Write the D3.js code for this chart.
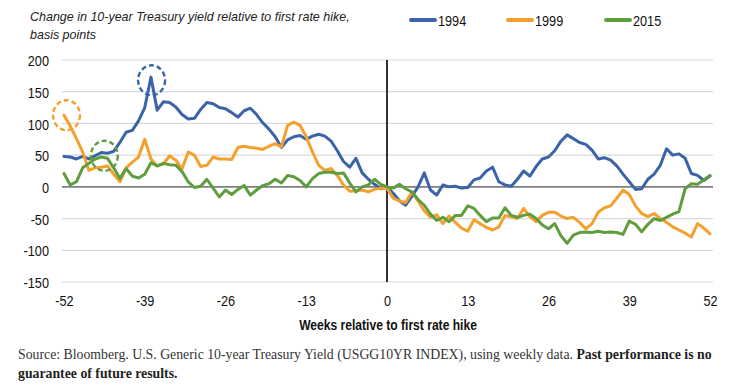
<!DOCTYPE html>
<html><head><meta charset="utf-8">
<script src="https://cdn.jsdelivr.net/npm/d3@7"></script>
<style>
html,body{margin:0;padding:0;background:#fff;}
svg{display:block;}
</style></head>
<body>
<svg id="chart" width="731" height="390"></svg>
<script>
// ---- data ----
const weeks = d3.range(-52, 53);
const s1994 = [48,47,44,48,44,49,54,53,56,70,86,89,104,
  125,173,121,134,133,126,114,107,108,122,133,131,125,
  123,117,110,120,124,114,101,91,79,62,74,79,81,
  75,80,83,80,72,57,40,31,45,22,12,4,-3,
  0,
  -10,-22,-29,-15,0,22,-5,-13,3,0,1,-2,-1,
  11,14,25,31,8,3,1,12,25,17,32,44,47,
  57,72,82,76,70,67,58,44,46,42,33,20,8,
  -4,-3,12,20,34,60,50,52,45,21,18,10,17];
const s1999 = [113,96,76,55,26,30,31,33,20,8,30,39,47,
  75,44,33,36,49,42,28,55,50,32,34,47,44,
  44,43,62,64,62,61,59,64,68,63,97,102,97,
  79,55,34,26,29,18,3,-7,-6,-5,-8,-4,-2,
  -2,
  -18,-22,-25,-8,-22,-38,-48,-44,-58,-46,-56,-65,-70,
  -52,-58,-64,-68,-63,-45,-47,-50,-34,-47,-55,-45,-40,
  -40,-46,-50,-48,-56,-66,-58,-40,-33,-30,-18,-5,-12,
  -30,-42,-47,-42,-50,-56,-63,-68,-73,-79,-58,-65,-74];
const s2015 = [21,3,8,30,37,44,47,45,30,13,29,17,14,
  20,38,33,37,35,34,24,8,-1,1,12,-2,-16,
  -5,-12,-4,2,-13,-5,2,5,12,6,18,16,10,
  0,13,21,23,23,21,22,6,-8,0,3,12,4,
  0,
  -2,4,-3,-8,-20,-29,-43,-53,-48,-55,-45,-45,-30,
  -34,-45,-55,-49,-49,-33,-45,-48,-45,-43,-50,-60,-66,
  -58,-77,-89,-76,-72,-71,-72,-70,-72,-71,-72,-75,-54,
  -59,-71,-59,-50,-53,-48,-43,-39,-3,5,4,11,18];
const seriesNames = ["1994","1999","2015"];
const seriesColors = ["#3b64a8","#f5a02c","#5e9e3e"];
const xTicks = [-52,-39,-26,-13,0,13,26,39,52];
const yTicks = [-150,-100,-50,0,50,100,150,200];
// dashed circle annotations: [series index, week, value]
const annoSeries = [1,0,2];
const annoWeek = [-51.6,-37.9,-45.5];
const annoValue = [113,168,49];

const titleLines = ["Change in 10-year Treasury yield relative to first rate hike,","basis points"];
const xTitle = "Weeks relative to first rate hike";
const sourceText = "Source: Bloomberg. U.S. Generic 10-year Treasury Yield (USGG10YR INDEX), using weekly data. ";
const sourceBold1 = "Past performance is no";
const sourceBold2 = "guarantee of future results.";

// ---- drawing ----
const svg = d3.select("#chart");
const SANS = '"Liberation Sans",Arial,sans-serif';
const NARROW_SCALE = 0.82;
const x = d3.scaleLinear().domain([-52,52]).range([64,710]);
const y = d3.scaleLinear().domain([-150,200]).range([282,60]);

function fit(sel, target, size){
  sel.style("font-size", size+"px");
  const w = sel.node().getComputedTextLength();
  const ns = size*target/w;
  sel.style("font-size", ns+"px");
  return ns;
}

// gridlines
svg.append("g").selectAll("line").data(yTicks).join("line")
  .attr("x1",62).attr("x2",713)
  .attr("y1",d=>y(d)).attr("y2",d=>y(d))
  .attr("stroke",d=>d===0?"#7f7f7f":"#d9d9d9")
  .attr("stroke-width",d=>d===0?1.6:1.2);

// y axis
const yAx = svg.append("g").attr("transform","translate(49,0)")
  .call(d3.axisLeft(y).tickValues(yTicks).tickSize(0).tickPadding(0).tickFormat(d=>d));
yAx.select(".domain").remove();
yAx.selectAll("text").attr("font-family",SANS).attr("font-size",15.5).attr("fill","#111")
  .attr("dy","0.36em").attr("transform",`scale(${NARROW_SCALE},1)`);

// x axis
const xAx = svg.append("g").attr("transform","translate(0,295)")
  .call(d3.axisBottom(x).tickValues(xTicks).tickSize(0).tickPadding(0).tickFormat(d=>d));
xAx.select(".domain").remove();
xAx.selectAll("text").attr("font-family",SANS).attr("font-size",15.5).attr("fill","#111")
  .attr("dy","0.71em").attr("transform",`scale(${NARROW_SCALE},1)`);

// vertical line at 0
svg.append("line").attr("x1",x(0)).attr("x2",x(0)).attr("y1",y(200)).attr("y2",y(-150))
  .attr("stroke","#000").attr("stroke-width",1.6);

// series
const allSeries = [s1994,s1999,s2015];
const line = d3.line().x((d,i)=>x(weeks[i])).y(d=>y(d));
svg.append("g").selectAll("path").data(allSeries).join("path")
  .attr("d",d=>line(d)).attr("fill","none")
  .attr("stroke",(d,i)=>seriesColors[i]).attr("stroke-width",3)
  .attr("stroke-linejoin","round").attr("stroke-linecap","round");

// annotations
svg.append("g").selectAll("ellipse").data(annoSeries).join("ellipse")
  .attr("cx",(d,i)=>x(annoWeek[i])).attr("cy",(d,i)=>y(annoValue[i]))
  .attr("rx",13.5).attr("ry",15)
  .attr("fill","none").attr("stroke",d=>seriesColors[d]).attr("stroke-width",2.4)
  .attr("stroke-dasharray","5,3");

// legend
const legX = [411,508,606];
const leg = svg.append("g").selectAll("g").data(seriesNames).join("g")
  .attr("transform",(d,i)=>`translate(${legX[i]},20)`);
leg.append("line").attr("x1",0).attr("x2",24).attr("y1",0).attr("y2",0)
  .attr("stroke",(d,i)=>seriesColors[i]).attr("stroke-width",4).attr("stroke-linecap","round");
leg.append("text").attr("transform",`translate(27,0) scale(${NARROW_SCALE},1)`)
  .attr("dy","0.36em").text(d=>d)
  .attr("font-family",SANS).attr("font-size",15.5).attr("fill","#111");

// title
const tSel = svg.append("g").selectAll("text").data(titleLines).join("text")
  .attr("x",30).attr("y",(d,i)=>21+i*18).text(d=>d)
  .attr("font-family",SANS).attr("font-style","italic")
  .attr("fill","#222");
const ts = fit(d3.select(tSel.nodes()[0]),320,13);
tSel.style("font-size",ts+"px");

// x axis title (condensed bold)
const xt = svg.append("text").attr("text-anchor","middle")
  .text(xTitle).attr("font-family",SANS).attr("font-weight","bold").attr("fill","#111")
  .style("font-size","15px");
const xtw = xt.node().getComputedTextLength();
xt.attr("transform",`translate(388,330) scale(${178/xtw},1)`);

// source
const SERIF = '"Liberation Serif","DejaVu Serif",Georgia,serif';
const src1 = svg.append("text").attr("x",18).attr("y",359).attr("font-family",SERIF).attr("fill","#333");
src1.append("tspan").text(sourceText);
src1.append("tspan").attr("font-weight","bold").attr("fill","#222").text(sourceBold1);
const ss = fit(src1,694,13);
svg.append("text").attr("x",18).attr("y",378).attr("font-family",SERIF).attr("font-weight","bold")
  .attr("fill","#222").style("font-size",ss+"px").text(sourceBold2);
</script>
</body></html>
